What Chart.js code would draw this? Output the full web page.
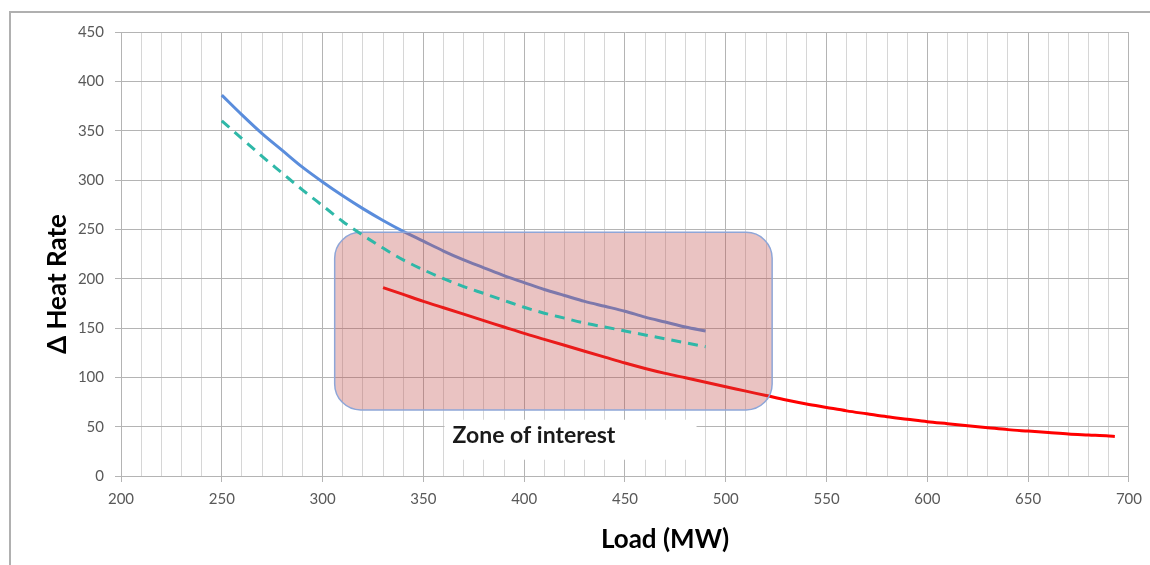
<!DOCTYPE html>
<html>
<head>
<meta charset="utf-8">
<script src="https://cdn.jsdelivr.net/npm/chart.js@4"></script>
<style>
  html, body { margin: 0; padding: 0; background: #fff; }
  #wrap { position: relative; width: 1150px; height: 565px; }
</style>
</head>
<body>
<div id="wrap"><canvas id="heatChart" width="1150" height="565"></canvas></div>
<script>
// values
const loadBlue = [250,260,270,280,290,300,310,320,330,340,350,360,370,380,390,400,410,420,430,440,450,460,470,480,490];
const rateBlue = [386,366,347,330,313,298,284,271,259,248,238,228,219,211,203,196,189,183,177,172,167,161,156,151,147];

const loadDash = [250,260,270,280,290,300,310,320,330,340,350,360,370,380,390,400,410,420,430,440,450,460,470,480,490];
const rateDash = [360,342,324,307,290,274,258,244,231,219,209,200,192,185,178,171,165,160,155,151,147,143,139,135,131];

const loadRed = [330,340,350,360,370,380,390,400,410,420,430,440,450,460,470,480,490,500,510,520,530,540,550,560,570,580,590,600,610,620,630,640,650,660,670,680,690,693];
const rateRed = [191,184,177,170.5,164,157.5,151,144.5,138.5,132.5,126.5,120.5,114.5,109,104,99.5,95,90.5,86,81.5,77,73,69.5,66,63,60,57.5,55,53,51,49,47,45.5,44,42.5,41.5,40.5,40];

// zone of interest (data units)
const zone = { xMin: 306, xMax: 523, yMin: 67, yMax: 247 };
const zoneLabel = 'Zone of interest';
const labelBox = { xMin: 360.5, xMax: 485.5, yMin: 16.5, yMax: 57 };

const xTitle = 'Load (MW)';
const yTitle = 'Δ Heat Rate';

const toPoints = (xs, ys) => xs.map((x, i) => ({ x: x, y: ys[i] }));

const MAJOR = '#b4b4b4';
const MINOR = '#d6d6d6';

function roundRect(ctx, x, y, w, h, r) {
  ctx.beginPath();
  ctx.moveTo(x + r, y);
  ctx.lineTo(x + w - r, y);
  ctx.arcTo(x + w, y, x + w, y + r, r);
  ctx.lineTo(x + w, y + h - r);
  ctx.arcTo(x + w, y + h, x + w - r, y + h, r);
  ctx.lineTo(x + r, y + h);
  ctx.arcTo(x, y + h, x, y + h - r, r);
  ctx.lineTo(x, y + r);
  ctx.arcTo(x, y, x + r, y, r);
  ctx.closePath();
}

const decor = {
  id: 'decor',
  beforeDraw(chart) {
    const ctx = chart.ctx;
    ctx.save();
    ctx.strokeStyle = '#b0b0b0';
    ctx.lineWidth = 2;
    ctx.beginPath();
    ctx.moveTo(10, 565);
    ctx.lineTo(10, 12);
    ctx.lineTo(1150, 12);
    ctx.stroke();
    ctx.restore();
  },
  beforeDatasetsDraw(chart) {
    // white box behind the label
    const { ctx, scales: { x, y } } = chart;
    const l = x.getPixelForValue(labelBox.xMin), r = x.getPixelForValue(labelBox.xMax);
    const t = y.getPixelForValue(labelBox.yMax), b = y.getPixelForValue(labelBox.yMin);
    ctx.save();
    ctx.fillStyle = '#ffffff';
    ctx.fillRect(l, t, r - l, b - t);
    ctx.fillStyle = '#1a1a1a';
    ctx.font = 'bold 23px Lato';
    ctx.textAlign = 'left';
    ctx.textBaseline = 'middle';
    ctx.fillText(zoneLabel, l + 8, (t + b) / 2 - 4);
    ctx.restore();
  },
  afterDatasetDraw(chart, args) {
    // the shaded zone sits over the red and blue curves, under the dashed one
    if (args.index !== 1) return;
    const { ctx, scales: { x, y } } = chart;
    const l = x.getPixelForValue(zone.xMin), r = x.getPixelForValue(zone.xMax);
    const t = y.getPixelForValue(zone.yMax), b = y.getPixelForValue(zone.yMin);
    ctx.save();
    roundRect(ctx, l, t, r - l, b - t, 26);
    ctx.fillStyle = 'rgba(192,80,77,0.34)';
    ctx.fill();
    ctx.strokeStyle = '#8ea6d8';
    ctx.lineWidth = 1.5;
    ctx.stroke();
    ctx.restore();
  },
  afterDraw(chart) {
    const ctx = chart.ctx;
    ctx.save();
    ctx.fillStyle = '#000';
    ctx.font = 'bold 26px Lato';
    ctx.textAlign = 'center';
    ctx.textBaseline = 'middle';
    ctx.fillText(xTitle, 665, 540);
    ctx.translate(58, 284);
    ctx.rotate(-Math.PI / 2);
    ctx.fillText(yTitle, 0, 0);
    ctx.restore();
  }
};

new Chart(document.getElementById('heatChart'), {
  type: 'line',
  data: {
    datasets: [
      {
        label: 'B',
        data: toPoints(loadDash, rateDash),
        borderColor: '#2fb8a8',
        borderWidth: 3,
        borderDash: [10, 7],
        pointRadius: 0,
        cubicInterpolationMode: 'monotone',
        fill: false
      },
      {
        label: 'A',
        data: toPoints(loadBlue, rateBlue),
        borderColor: '#5a8ddc',
        borderWidth: 3,
        pointRadius: 0,
        cubicInterpolationMode: 'monotone',
        fill: false
      },
      {
        label: 'C',
        data: toPoints(loadRed, rateRed),
        borderColor: '#ff0000',
        borderWidth: 3,
        pointRadius: 0,
        cubicInterpolationMode: 'monotone',
        fill: false
      }
    ]
  },
  options: {
    responsive: false,
    animation: false,
    layout: { padding: { left: 0, right: 21, top: 32, bottom: 0 } },
    plugins: { legend: { display: false }, tooltip: { enabled: false } },
    scales: {
      x: {
        type: 'linear',
        min: 200,
        max: 700,
        afterFit: (s) => { s.height = 89; },
        ticks: {
          stepSize: 10,
          autoSkip: false,
          maxRotation: 0,
          padding: 8,
          color: '#595959',
          font: { family: 'Lato', size: 15 },
          callback: (v) => (v % 50 === 0 ? v : '')
        },
        grid: {
          color: (c) => (c.tick && c.tick.value % 50 === 0 ? MAJOR : MINOR),
          tickColor: (c) => (c.tick && c.tick.value % 50 === 0 ? MAJOR : 'rgba(0,0,0,0)'),
          tickLength: 6,
          lineWidth: 1
        },
        border: { color: MAJOR }
      },
      y: {
        min: 0,
        max: 450,
        afterFit: (s) => { s.width = 121; },
        ticks: {
          stepSize: 50,
          padding: 11,
          color: '#595959',
          font: { family: 'Lato', size: 15 }
        },
        grid: { color: MAJOR, tickColor: MAJOR, tickLength: 6 },
        border: { color: MAJOR }
      }
    }
  },
  plugins: [decor]
});
</script>
</body>
</html>
